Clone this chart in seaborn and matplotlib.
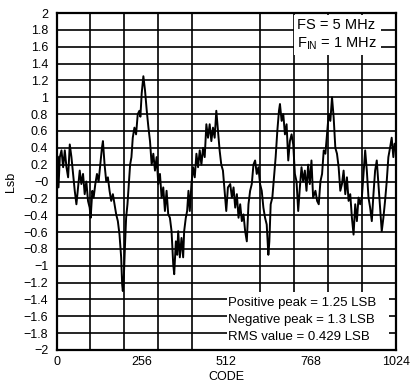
import numpy as np
import pandas as pd
import matplotlib
matplotlib.use("Agg")
import matplotlib.pyplot as plt
import seaborn as sns
from matplotlib.patches import Rectangle

# ---- data ----
trace_code = [0, 3, 6, 10, 15, 20, 25, 30, 35, 40, 45, 50, 55, 60, 65, 70, 75, 80, 85, 90,
              95, 100, 103, 108, 112, 117, 122, 127, 132, 137, 140, 145, 150, 155, 160, 165, 170, 175, 180, 185,
              190, 195, 198, 200, 203, 207, 210, 214, 218, 222, 226, 230, 235, 240, 245, 250, 253, 257, 262, 267,
              272, 277, 282, 287, 292, 297, 302, 307, 312, 317, 322, 327, 332, 337, 342, 347, 352, 355, 360, 364,
              367, 372, 377, 382, 385, 390, 394, 398, 402, 407, 412, 417, 422, 427, 432, 437, 442, 447, 452, 457,
              462, 467, 472, 477, 482, 487, 492, 497, 502, 507, 512, 517, 524, 529, 534, 539, 544, 549, 554, 559,
              564, 569, 574, 579, 584, 589, 594, 599, 604, 609, 614, 619, 624, 629, 634, 639, 642, 646, 651, 656,
              661, 666, 671, 674, 679, 684, 689, 694, 699, 704, 709, 714, 719, 724, 729, 734, 739, 744, 749, 754,
              759, 764, 769, 774, 781, 786, 791, 796, 801, 806, 811, 816, 821, 826, 831, 836, 841, 846, 851, 856,
              861, 866, 871, 876, 881, 886, 891, 896, 901, 906, 911, 916, 921, 926, 931, 936, 941, 946, 951, 956,
              961, 966, 971, 976, 981, 986, 991, 996, 1001, 1006, 1011, 1016, 1020, 1024]
trace_lsb = [0.10, 0.30, -0.07, 0.29, 0.37, 0.17, 0.37, 0.17, 0.05, 0.44, 0.29, 0.09, -0.11, -0.27, -0.07, 0.13, -0.03, 0.09, -0.15, 0.00,
             -0.23, -0.31, -0.43, -0.11, -0.19, -0.03, 0.09, 0.00, 0.20, 0.40, 0.48, 0.20, 0.00, 0.05, -0.11, -0.23, -0.15, -0.27, -0.39, -0.47,
             -0.63, -0.90, -1.22, -1.30, -1.14, -0.71, -0.43, -0.27, -0.03, 0.20, 0.29, 0.52, 0.64, 0.56, 0.80, 0.84, 0.77, 1.05, 1.25, 1.08,
             0.85, 0.65, 0.48, 0.20, 0.33, 0.13, 0.29, -0.03, 0.09, -0.19, -0.07, -0.35, -0.11, -0.39, -0.43, -0.59, -0.98, -1.10, -0.71, -0.87,
             -0.59, -0.90, -0.67, -0.90, -0.59, -0.43, -0.35, -0.11, -0.35, -0.03, 0.17, 0.05, 0.33, 0.17, 0.37, 0.20, 0.40, 0.29, 0.68, 0.52,
             0.68, 0.48, 0.64, 0.52, 0.84, 0.60, 0.37, 0.20, 0.13, -0.11, -0.35, -0.07, -0.03, -0.19, -0.07, -0.31, -0.15, -0.43, -0.27, -0.47,
             -0.39, -0.59, -0.71, -0.27, -0.11, -0.03, 0.20, 0.25, 0.09, 0.17, -0.03, -0.11, -0.31, -0.43, -0.51, -0.87, -0.71, -0.27, -0.19, 0.05,
             0.29, 0.60, 0.84, 0.92, 0.72, 0.80, 0.56, 0.68, 0.25, 0.48, 0.56, 0.44, 0.09, 0.00, -0.35, -0.07, 0.17, 0.00, 0.13, -0.11,
             0.20, -0.03, 0.25, -0.19, -0.11, -0.23, -0.27, 0.00, 0.09, 0.37, 0.33, 0.56, 0.80, 0.72, 1.00, 0.76, 0.40, 0.33, 0.17, -0.11,
             -0.03, 0.13, -0.15, 0.05, -0.23, -0.15, -0.43, -0.63, -0.27, -0.47, -0.19, -0.27, -0.19, 0.09, 0.37, 0.13, -0.19, -0.31, -0.47, -0.15,
             0.13, 0.25, -0.03, -0.31, -0.59, -0.43, -0.23, 0.00, 0.29, 0.40, 0.52, 0.29, 0.45, 0.40]

x_ticks = [0, 256, 512, 768, 1024]
y_ticks = [2, 1.8, 1.6, 1.4, 1.2, 1, 0.8, 0.6, 0.4, 0.2, 0, -0.2, -0.4, -0.6, -0.8, -1, -1.2, -1.4, -1.6, -1.8, -2]
y_tick_labels = ["2", "1.8", "1.6", "1.4", "1.2", "1", "0.8", "0.6", "0.4", "0.2", "\u22120",
                 "\u22120.2", "\u22120.4", "\u22120.6", "\u22120.8", "\u22121", "\u22121.2", "\u22121.4",
                 "\u22121.6", "\u22121.8", "\u22122"]
x_label = "CODE"
y_label = "Lsb"
cond_lines = ["FS = 5 MHz", "F$_{\\mathregular{IN}}$ = 1 MHz"]
stat_lines = ["Positive peak = 1.25 LSB", "Negative peak = 1.3 LSB", "RMS value = 0.429 LSB"]

df = pd.DataFrame({"code": trace_code, "lsb": trace_lsb})

sns.set_style("white")
plt.rcParams["font.family"] = ["Liberation Sans", "DejaVu Sans"]
plt.rcParams["text.color"] = "black"
plt.rcParams["axes.labelcolor"] = "black"
plt.rcParams["xtick.color"] = "black"
plt.rcParams["ytick.color"] = "black"

fig = plt.figure(figsize=(4.11, 3.82), dpi=100)
ax = fig.add_axes([0.1375, 0.0838, 0.826, 0.882])

sns.lineplot(data=df, x="code", y="lsb", ax=ax, color="black", lw=1.4,
             estimator=None, sort=False, zorder=3)

ax.set_xlim(0, 1024)
ax.set_ylim(-2, 2)
ax.set_xticks(x_ticks)
ax.set_xticks(np.arange(0, 1025, 102.4), minor=True)
ax.set_yticks(y_ticks)
ax.set_yticklabels(y_tick_labels)
ax.tick_params(axis="x", which="major", direction="inout", length=7, width=1.0,
               color="black", labelcolor="black", labelsize=9, pad=1)
ax.tick_params(axis="x", which="minor", length=0)
ax.tick_params(axis="y", which="major", length=0, labelsize=9, pad=6,
               labelcolor="black")
ax.grid(False)
ax.grid(True, which="minor", axis="x", color="black", lw=1.2)
ax.grid(True, which="major", axis="y", color="black", lw=1.2)
ax.set_axisbelow(True)
for s in ax.spines.values():
    s.set_color("black")
    s.set_linewidth(1.6)

ax.set_xlabel(x_label, fontsize=9, labelpad=2, color="black")
ax.set_ylabel(y_label, fontsize=9, labelpad=5, color="black")

# white panels behind the annotations
ax.add_patch(Rectangle((0.70, 0.875), 0.255, 0.12, transform=ax.transAxes,
                       facecolor="white", edgecolor="none", zorder=2))
ax.add_patch(Rectangle((0.502, 0.004), 0.478, 0.168, transform=ax.transAxes,
                       facecolor="white", edgecolor="none", zorder=2))

for t, yy in zip(cond_lines, [0.966, 0.910]):
    ax.text(0.708, yy, t, transform=ax.transAxes, fontsize=10.5, va="center",
            ha="left", zorder=4, color="black")
for t, yy in zip(stat_lines, [0.139, 0.089, 0.039]):
    ax.text(0.506, yy, t, transform=ax.transAxes, fontsize=9.5, va="center",
            ha="left", zorder=4, color="black")

fig.savefig("out.png", dpi=100)
